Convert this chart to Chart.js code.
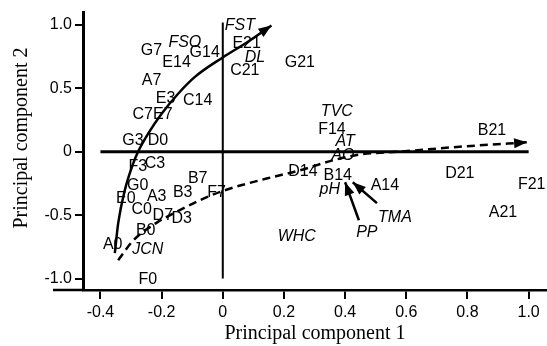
<!DOCTYPE html>
<html>
<head>
<meta charset="utf-8">
<script src="https://cdn.jsdelivr.net/npm/chart.js@4/dist/chart.umd.min.js"></script>
<style>
  html, body { margin: 0; padding: 0; background: #fff; }
  #wrap { width: 547px; height: 346px; position: relative; }
</style>
</head>
<body>
<div id="wrap"><canvas id="pca"></canvas></div>
<script>
// Sample scores on the first two principal components
const sampleNames = ['G7','E14','G14','E21','C21','A7','E3','C14','C7','E7','G3','D0','C3','F3','G0','E0','A3','C0','D7','D3','B0','A0','F0','B7','B3','F7','G21','F14','B21','D14','B14','A14','D21','F21','A21'];
const samplePC1 = [-0.233,-0.151,-0.059,0.078,0.072,-0.233,-0.187,-0.082,-0.262,-0.196,-0.294,-0.212,-0.222,-0.278,-0.278,-0.317,-0.216,-0.265,-0.196,-0.134,-0.252,-0.36,-0.245,-0.082,-0.131,-0.02,0.252,0.357,0.88,0.262,0.376,0.53,0.775,1.01,0.916];
const samplePC2 = [0.80,0.705,0.785,0.853,0.64,0.563,0.42,0.405,0.295,0.295,0.09,0.09,-0.09,-0.12,-0.27,-0.37,-0.355,-0.455,-0.50,-0.525,-0.62,-0.73,-1.01,-0.21,-0.32,-0.325,0.705,0.176,0.17,-0.153,-0.185,-0.264,-0.17,-0.256,-0.476];

// Variable loadings
const variableNames = ['FST','FSO','DL','TVC','AT','AO','pH','TMA','PP','WHC','JCN'];
const variablePC1 = [0.056,-0.124,0.105,0.373,0.40,0.393,0.35,0.563,0.471,0.242,-0.245];
const variablePC2 = [0.996,0.86,0.745,0.32,0.083,-0.03,-0.30,-0.515,-0.64,-0.67,-0.77];

// Trend curves (solid: towards FST, dashed: towards B21)
const solidCurvePC1 = [-0.353,-0.342,-0.32,-0.293,-0.277,-0.244,-0.20,-0.146,-0.092,0.001,0.072,0.159];
const solidCurvePC2 = [-0.80,-0.565,-0.30,-0.093,0.0,0.143,0.30,0.458,0.589,0.746,0.852,0.996];
const dashedCurvePC1 = [-0.342,-0.293,-0.212,-0.151,-0.075,0.007,0.143,0.252,0.361,0.45,0.57,0.775,0.995];
const dashedCurvePC2 = [-0.855,-0.70,-0.553,-0.474,-0.382,-0.303,-0.211,-0.146,-0.067,-0.02,0.0,0.04,0.075];

// Short arrows from PP and TMA
const ppArrowPC1 = [0.445, 0.40];
const ppArrowPC2 = [-0.54, -0.24];
const tmaArrowPC1 = [0.504, 0.425];
const tmaArrowPC2 = [-0.405, -0.24];

// Zero reference lines
const hLinePC1 = [-0.4, 1.0];
const hLinePC2 = [0, 0];
const vLinePC1 = [0, 0];
const vLinePC2 = [1.02, -1.0];

// Axis ticks
const xTickValues = [-0.4,-0.2,0,0.2,0.4,0.6,0.8,1.0];
const xTickLabels = ['-0.4','-0.2','0','0.2','0.4','0.6','0.8','1.0'];
const yTickValues = [-1.0,-0.5,0,0.5,1.0];
const yTickLabels = ['-1.0','-0.5','0','0.5','1.0'];

const SANS = "'Liberation Sans', Arial, sans-serif";
const SERIF = "'Liberation Serif', 'Times New Roman', serif";

const pts = (xs, ys) => xs.map((x, i) => ({ x, y: ys[i] }));

const lineSet = (xs, ys, extra) => Object.assign({
  data: pts(xs, ys),
  showLine: true,
  pointRadius: 0,
  borderColor: '#000',
  backgroundColor: '#000',
  borderWidth: 2.5,
  tension: 0,
  clip: false
}, extra);

// Text labels placed at each point of the label datasets, plus arrowheads
const labelPlugin = {
  id: 'labelsAndArrows',
  afterDatasetsDraw(chart) {
    const ctx = chart.ctx;
    chart.data.datasets.forEach((ds, di) => {
      const meta = chart.getDatasetMeta(di);
      if (ds.labels) {
        ctx.save();
        ctx.fillStyle = '#000';
        ctx.font = (ds.italic ? 'italic ' : '') + '16px ' + SANS;
        ctx.textAlign = 'center';
        ctx.textBaseline = 'middle';
        meta.data.forEach((el, i) => ctx.fillText(ds.labels[i], el.x, el.y));
        ctx.restore();
      }
      if (ds.arrowHead) {
        const n = meta.data.length;
        const a = meta.data[n - 2], b = meta.data[n - 1];
        const ang = Math.atan2(b.y - a.y, b.x - a.x);
        const L = 13, W = 5;
        ctx.save();
        ctx.fillStyle = '#000';
        ctx.translate(b.x, b.y);
        ctx.rotate(ang);
        ctx.beginPath();
        ctx.moveTo(0, 0);
        ctx.lineTo(-L, -W);
        ctx.lineTo(-L, W);
        ctx.closePath();
        ctx.fill();
        ctx.restore();
      }
    });
  },
  afterDraw(chart) {
    const ctx = chart.ctx;
    const area = chart.chartArea;
    // bottom axis runs a little past the vertical axis
    ctx.save();
    ctx.strokeStyle = '#000';
    ctx.lineWidth = 2.5;
    ctx.beginPath();
    ctx.moveTo(area.left - 30, area.bottom);
    ctx.lineTo(area.left, area.bottom);
    ctx.stroke();
    // vertical axis title
    ctx.fillStyle = '#000';
    ctx.font = '20px ' + SERIF;
    ctx.textAlign = 'center';
    ctx.textBaseline = 'middle';
    ctx.translate(22, 138);
    ctx.rotate(-Math.PI / 2);
    ctx.fillText('Principal component 2', 0, 0);
    ctx.restore();
  }
};

new Chart(document.getElementById('pca'), {
  type: 'scatter',
  data: {
    datasets: [
      lineSet(hLinePC1, hLinePC2, { borderWidth: 3 }),
      lineSet(vLinePC1, vLinePC2, { borderWidth: 2 }),
      lineSet(solidCurvePC1, solidCurvePC2, { cubicInterpolationMode: 'monotone', arrowHead: true }),
      lineSet(dashedCurvePC1, dashedCurvePC2, { cubicInterpolationMode: 'monotone', borderDash: [8, 5], arrowHead: true }),
      lineSet(ppArrowPC1, ppArrowPC2, { arrowHead: true }),
      lineSet(tmaArrowPC1, tmaArrowPC2, { arrowHead: true }),
      { data: pts(samplePC1, samplePC2), labels: sampleNames, pointRadius: 0, clip: false },
      { data: pts(variablePC1, variablePC2), labels: variableNames, italic: true, pointRadius: 0, clip: false }
    ]
  },
  options: {
    responsive: true,
    maintainAspectRatio: false,
    animation: false,
    events: [],
    layout: { padding: { top: 12, right: 0, left: 0, bottom: 0 } },
    plugins: { legend: { display: false }, tooltip: { enabled: false } },
    scales: {
      x: {
        type: 'linear',
        min: -0.457,
        max: 1.06,
        afterFit(scale) { scale.height = 56; },
        afterBuildTicks(scale) { scale.ticks = xTickValues.map(v => ({ value: v })); },
        ticks: {
          color: '#000',
          font: { family: SANS, size: 16 },
          padding: 4,
          maxRotation: 0,
          autoSkip: false,
          callback: (v) => xTickLabels[xTickValues.indexOf(v)]
        },
        grid: { drawOnChartArea: false, drawTicks: true, tickLength: 9, color: '#000', lineWidth: 2 },
        border: { display: true, color: '#000', width: 2.5 },
        title: {
          display: true,
          text: 'Principal component 1',
          color: '#000',
          font: { family: SERIF, size: 20 },
          padding: { top: 0, bottom: 0 }
        }
      },
      y: {
        type: 'linear',
        min: -1.09,
        max: 1.098,
        afterFit(scale) { scale.width = 83; },
        afterBuildTicks(scale) { scale.ticks = yTickValues.map(v => ({ value: v })); },
        ticks: {
          color: '#000',
          font: { family: SANS, size: 16 },
          padding: 3,
          autoSkip: false,
          callback: (v) => yTickLabels[yTickValues.indexOf(v)]
        },
        grid: { drawOnChartArea: false, drawTicks: true, tickLength: 8, color: '#000', lineWidth: 2 },
        border: { display: true, color: '#000', width: 3 }
      }
    }
  },
  plugins: [labelPlugin]
});
</script>
</body>
</html>
